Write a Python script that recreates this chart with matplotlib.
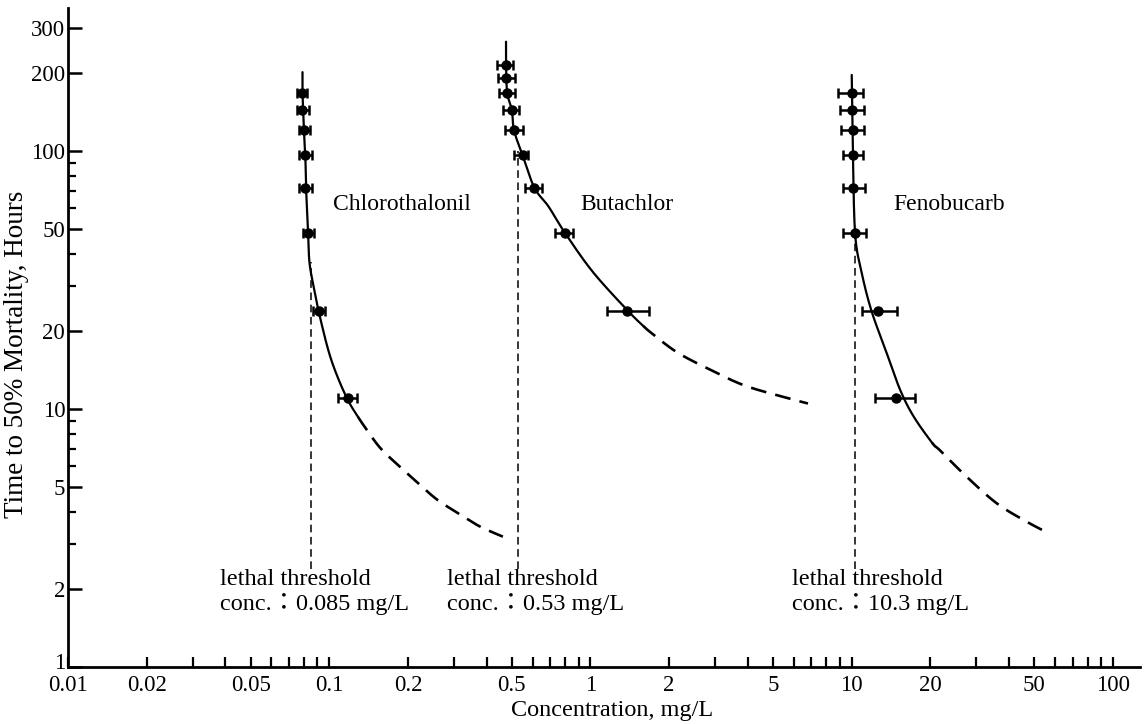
import matplotlib
matplotlib.use("Agg")
import matplotlib.pyplot as plt
import numpy as np
from matplotlib.ticker import FixedLocator, FixedFormatter, NullFormatter
from matplotlib.transforms import ScaledTranslation

# ---------------- data ----------------
# Chlorothalonil observations
chl_hours = [168, 144, 120, 96, 72, 48, 24, 11]
chl_conc = [0.079, 0.079, 0.080, 0.081, 0.081, 0.083, 0.091, 0.118]
chl_lo = [0.0755, 0.075, 0.0766, 0.0766, 0.0766, 0.0794, 0.0867, 0.108]
chl_hi = [0.0825, 0.0837, 0.0844, 0.0859, 0.0859, 0.0874, 0.0963, 0.128]
# Chlorothalonil fitted curve (solid part, dashed extrapolation)
chl_fit_conc = [0.079, 0.079, 0.080, 0.081, 0.0815, 0.083, 0.084, 0.087, 0.091, 0.099, 0.107, 0.118, 0.129]
chl_fit_hours = [202, 169, 121, 95, 72.5, 48, 37, 30, 24, 17, 13.5, 10.8, 9.3]
chl_ext_conc = [0.129, 0.137, 0.156, 0.182, 0.217, 0.259, 0.317, 0.378, 0.462]
chl_ext_hours = [9.3, 8.5, 7.1, 6.1, 5.2, 4.45, 3.9, 3.5, 3.2]

# Butachlor observations
but_hours = [216, 192, 168, 144, 120, 96, 72, 48, 24]
but_conc = [0.475, 0.475, 0.48, 0.50, 0.51, 0.55, 0.61, 0.80, 1.38]
but_lo = [0.439, 0.443, 0.447, 0.462, 0.471, 0.509, 0.562, 0.731, 1.157]
but_hi = [0.505, 0.514, 0.514, 0.533, 0.552, 0.577, 0.652, 0.857, 1.675]
but_fit_conc = [0.475, 0.475, 0.48, 0.50, 0.51, 0.55, 0.61, 0.69, 0.80, 1.02, 1.38, 1.59]
but_fit_hours = [265, 216, 168, 144, 120, 96, 72, 61, 48, 34, 24.2, 21.0]
but_ext_conc = [1.59, 1.69, 2.14, 2.87, 3.83, 5.18, 6.80]
but_ext_hours = [21.0, 19.9, 16.6, 14.2, 12.4, 11.3, 10.5]

# Fenobucarb observations
fen_hours = [168, 144, 120, 96, 72, 48, 24, 11]
fen_conc = [10.0, 10.0, 10.1, 10.1, 10.1, 10.3, 12.6, 14.8]
fen_lo = [8.85, 9.0, 9.1, 9.26, 9.26, 9.26, 10.94, 12.3]
fen_hi = [11.05, 11.14, 11.14, 11.05, 11.24, 11.35, 14.9, 17.5]
fen_fit_conc = [10.0, 10.1, 10.3, 10.9, 11.9, 13.6, 15.3, 17.2, 20.3]
fen_fit_hours = [197, 101, 48, 34, 24, 16.5, 11.9, 9.4, 7.4]
fen_ext_conc = [20.3, 21.8, 27.6, 36.0, 46.9, 57.4]
fen_ext_hours = [7.4, 6.9, 5.45, 4.3, 3.65, 3.28]

# lethal threshold concentrations (mg/L) and the top of their guide lines (h)
compounds = ["Chlorothalonil", "Butachlor", "Fenobucarb"]
thresholds = [0.085, 0.53, 10.3]
threshold_top_hours = [37, 100, 46]
threshold_labels = ["0.085", "0.53", "10.3"]

# axis ticks
x_major = [0.01, 0.02, 0.05, 0.1, 0.2, 0.5, 1, 2, 5, 10, 20, 50, 100]
x_major_labels = ["0.01", "0.02", "0.05", "0.1", "0.2", "0.5", "1", "2", "5", "10", "20", "50", "100"]
x_minor = [0.03, 0.04, 0.06, 0.07, 0.08, 0.09, 0.3, 0.4, 0.6, 0.7, 0.8, 0.9,
           3, 4, 6, 7, 8, 9, 30, 40, 60, 70, 80, 90]
y_major = [1, 2, 5, 10, 20, 50, 100, 200, 300]
y_major_labels = ["1", "2", "5", "10", "20", "50", "100", "200", "300"]
y_minor = [3, 4, 6, 7, 8, 9, 30, 40, 60, 70, 80, 90]


def smooth_path(xs, ys, n=24):
    """Catmull-Rom drawing path through the read curve nodes (in log space).
    Returns the path and the index in it of every node."""
    p = np.column_stack([np.log10(xs), np.log10(ys)])
    p = np.vstack([p[0], p, p[-1]])
    out = []
    t = np.linspace(0, 1, n, endpoint=False)[:, None]
    for i in range(1, len(p) - 2):
        p0, p1, p2, p3 = p[i - 1], p[i], p[i + 1], p[i + 2]
        seg = 0.5 * ((2 * p1) + (-p0 + p2) * t + (2 * p0 - 5 * p1 + 4 * p2 - p3) * t ** 2
                     + (-p0 + 3 * p1 - 3 * p2 + p3) * t ** 3)
        out.append(seg)
    out.append(p[-2][None, :])
    out = np.vstack(out)
    return 10 ** out[:, 0], 10 ** out[:, 1]


# ---------------- figure ----------------
plt.rcParams["font.family"] = ["Liberation Serif", "Noto Sans CJK JP", "DejaVu Serif"]

fig = plt.figure(figsize=(11.48, 7.24), dpi=100)
ax = fig.add_axes([68 / 1148, 57 / 724, 1072 / 1148, 659 / 724])
ax.set_xscale("log")
ax.set_yscale("log")
ax.set_xlim(0.01, 126.9)
ax.set_ylim(1, 358)

for s in ["top", "right"]:
    ax.spines[s].set_visible(False)
for s in ["left", "bottom"]:
    ax.spines[s].set_linewidth(2.0)

ax.xaxis.set_major_locator(FixedLocator(x_major))
ax.xaxis.set_major_formatter(FixedFormatter(x_major_labels))
ax.xaxis.set_minor_locator(FixedLocator(x_minor))
ax.xaxis.set_minor_formatter(NullFormatter())
ax.yaxis.set_major_locator(FixedLocator(y_major))
ax.yaxis.set_major_formatter(FixedFormatter(y_major_labels))
ax.yaxis.set_minor_locator(FixedLocator(y_minor))
ax.yaxis.set_minor_formatter(NullFormatter())

ax.tick_params(axis="x", which="both", direction="in", length=7, width=1.6,
               labelsize=16.5, pad=6)
ax.tick_params(axis="y", which="major", direction="in", length=10, width=1.8,
               labelsize=16.5, pad=2)
ax.tick_params(axis="y", which="minor", direction="in", length=6, width=1.6)

series = [
    (chl_conc, chl_hours, chl_lo, chl_hi, chl_fit_conc, chl_fit_hours, chl_ext_conc, chl_ext_hours),
    (but_conc, but_hours, but_lo, but_hi, but_fit_conc, but_fit_hours, but_ext_conc, but_ext_hours),
    (fen_conc, fen_hours, fen_lo, fen_hi, fen_fit_conc, fen_fit_hours, fen_ext_conc, fen_ext_hours),
]

NSEG = 24
for conc, hours, lo, hi, fc, fh, ec, eh in series:
    # one continuous smooth path through all nodes, split where the solid part ends
    sx, sy = smooth_path(list(fc) + list(ec[1:]), list(fh) + list(eh[1:]), n=NSEG)
    k = (len(fc) - 1) * NSEG
    ax.plot(sx[:k + 1], sy[:k + 1], color="black", lw=1.6, solid_capstyle="round", zorder=3)
    ax.plot(sx[k:], sy[k:], color="black", lw=1.9, dashes=(6, 3.5), zorder=3)
    xerr = [[c - l for c, l in zip(conc, lo)], [h - c for c, h in zip(conc, hi)]]
    ax.errorbar(conc, hours, xerr=xerr, fmt="o", color="black", ms=6.5,
                elinewidth=1.8, capsize=3.5, capthick=1.8, zorder=4)

for thr, top in zip(thresholds, threshold_top_hours):
    ax.plot([thr, thr], [2.4, top], color="black", lw=1.1, dashes=(5, 3), zorder=2)

# compound names
name_pos = [(0.1034, 61.8), (0.912, 61.8), (14.4, 61.8)]
for name, (x, y) in zip(compounds, name_pos):
    ax.text(x, y, name, fontsize=17, ha="left", va="center")

# threshold annotations
lab_x = [0.0382, 0.2823, 5.91]
for x, lab in zip(lab_x, threshold_labels):
    ax.text(x, 2.40, "lethal threshold\nconc.：" + lab + " mg/L", fontsize=17.5,
            ha="left", va="top", linespacing=1.2)

ax.set_xlabel("Concentration, mg/L", fontsize=17.5)
ax.set_ylabel("Time to 50% Mortality, Hours", fontsize=19.5)
ax.xaxis.set_label_coords(0.508, -0.050)
ax.yaxis.set_label_coords(-0.036, 0.475)

# the "1" label sits slightly above the corner, as in the reference
fig.canvas.draw()
for lbl in ax.yaxis.get_majorticklabels():
    if lbl.get_text() == "1":
        lbl.set_transform(lbl.get_transform() + ScaledTranslation(0, 4 / 72, fig.dpi_scale_trans))

fig.savefig("out.png", dpi=100, facecolor="white")
